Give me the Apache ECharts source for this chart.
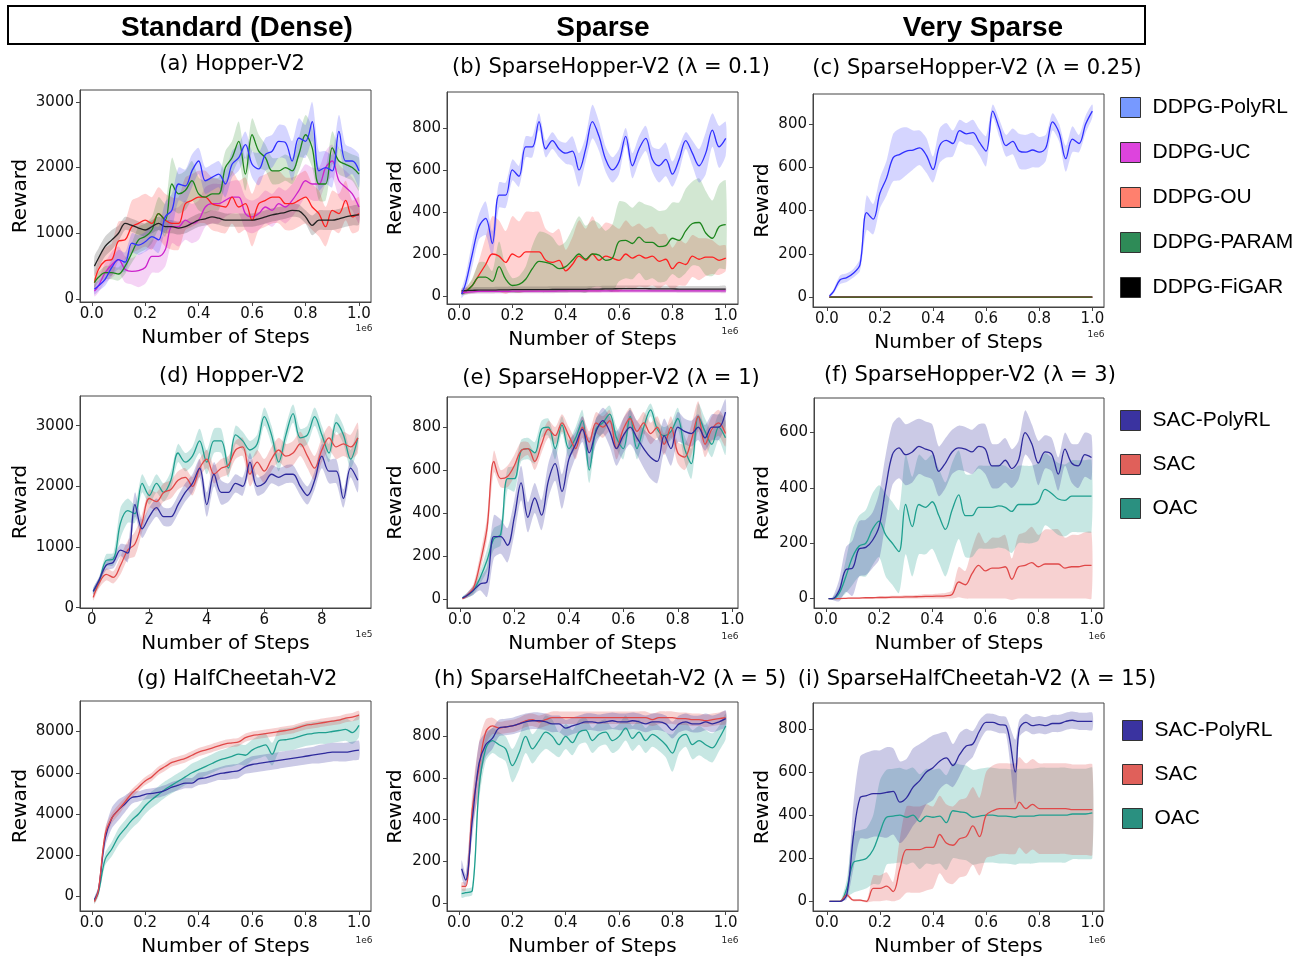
<!DOCTYPE html>
<html>
<head>
<meta charset="utf-8">
<script src="https://cdn.jsdelivr.net/npm/echarts@6/dist/echarts.min.js"></script>
<style>
html, body { margin: 0; padding: 0; background: #fff; }
#chart { width: 1303px; height: 958px; }
</style>
</head>
<body>
<div id="chart"></div>
<script>
// ---- x grids (steps, 1e6 units; d panel in 1e5 units)
const X41 = [0.01,0.025,0.05,0.075,0.1,0.125,0.15,0.175,0.2,0.225,0.25,0.275,0.3,0.325,0.35,0.375,0.4,0.425,0.45,0.475,0.5,0.525,0.55,0.575,0.6,0.625,0.65,0.675,0.7,0.725,0.75,0.775,0.8,0.825,0.85,0.875,0.9,0.925,0.95,0.975,1.0];
const XE = X41.slice(0, 40);
const XI = [0.01,0.025,0.05,0.075,0.1,0.125,0.15,0.175,0.2,0.225,0.25,0.275,0.3,0.325,0.35,0.375,0.4,0.425,0.45,0.475,0.5,0.525,0.55,0.575,0.6,0.625,0.65,0.675,0.71,0.725,0.75,0.775,0.8,0.825,0.85,0.875,0.9,0.925,0.95,0.975,1.0];
const XD = [0.05,0.25,0.5,0.75,1,1.25,1.5,1.75,2,2.25,2.5,2.75,3,3.25,3.5,3.75,4,4.25,4.5,4.75,5,5.25,5.5,5.75,6,6.25,6.5,6.75,7,7.25,7.5,7.75,8,8.25,8.5,8.75,9,9.25];
const XFLAT = [0.01, 1.0];

// ---- (a) Hopper-V2, DDPG
const aPoly  = [150,200,300,480,600,560,850,820,870,950,900,1250,1350,1750,1720,1950,2100,1800,1850,1900,1750,2050,2150,2350,2050,1980,2200,2250,2400,2380,2100,2450,2400,2700,1950,2000,1950,2550,2100,2100,1950];
const aPolyS = [80,80,100,120,150,150,150,150,150,180,200,220,250,250,250,250,200,200,200,200,200,200,200,200,200,250,250,250,250,250,300,300,250,300,300,250,250,250,250,200,250];
const aUC    = [120,200,400,520,600,450,420,430,480,650,650,750,1100,1100,1200,1150,1200,1400,1450,1450,1500,1550,1550,1300,1250,1300,1400,1350,1450,1400,1500,1650,1800,1750,1750,2000,2100,1800,1700,1600,1400];
const aUCS   = [80,100,150,200,200,200,200,250,250,250,250,250,250,300,300,300,300,300,300,300,250,250,250,250,250,250,250,250,250,250,250,250,250,250,250,250,250,250,250,250,250];
const aOU    = [250,450,580,600,880,900,1100,1150,1200,1150,1300,1200,1150,1150,1450,1500,1550,1550,1450,1420,1400,1550,1400,1450,1200,1450,1500,1550,1550,1450,1450,1500,1550,1400,1300,1100,1350,1300,1500,1250,1300];
const aOUS   = [100,150,200,250,300,300,400,400,400,400,400,400,400,400,400,400,400,400,400,400,400,400,400,400,400,400,400,400,400,400,400,400,400,350,350,300,300,300,300,250,250];
const aParam = [250,330,400,400,380,500,700,900,950,1050,1300,1200,1750,1600,1650,1800,1600,1550,1600,1600,2000,2150,2400,1900,2500,2250,2150,1950,1950,2000,1950,2200,2500,2300,1750,1750,2300,2100,2050,2000,1900];
const aParamS= [80,80,100,100,100,120,150,200,200,200,250,250,400,300,300,300,250,250,250,250,250,250,300,250,250,250,200,200,200,200,200,250,300,300,250,250,250,200,200,200,250];
const aFigar = [500,620,800,900,1000,1150,1120,1080,1050,1100,1150,1100,1100,1080,1100,1150,1200,1220,1250,1230,1200,1200,1200,1200,1200,1220,1250,1280,1300,1320,1350,1340,1250,1120,1200,1200,1200,1220,1250,1270,1280];
const aFigarS= [150,150,150,150,120,100,100,100,100,100,100,100,100,100,100,100,100,100,100,100,100,100,100,100,100,100,100,100,100,100,100,100,100,150,150,150,150,150,150,150,150];

// ---- (b) SparseHopper-V2 lambda 0.1, DDPG
const bPoly  = [10,60,200,330,370,250,480,480,600,570,710,710,830,700,740,700,680,690,600,700,830,760,650,600,640,760,620,700,750,650,620,650,580,650,740,680,620,680,790,710,750];
const bPolyS = [20,40,60,60,80,60,60,60,50,50,50,50,40,40,40,40,50,70,80,60,80,70,60,60,60,40,60,60,60,60,80,80,60,60,40,60,80,100,80,100,80];
const bUC    = [15,18,20,22,22,22,22,22,23,23,23,23,23,23,23,24,24,24,24,24,24,24,24,24,24,24,24,24,24,24,24,24,24,24,24,24,24,24,24,24,24];
const bUCS   = [8,10,10,10,10,10,10,10,10,10,10,10,10,10,10,10,10,10,10,10,10,10,10,10,10,10,10,10,10,10,10,10,10,10,10,10,10,10,10,10,10];
const bOU    = [20,25,50,100,150,200,190,160,200,185,210,210,210,170,160,170,120,150,190,170,200,170,190,180,170,200,180,195,180,190,165,175,130,160,150,190,175,185,185,170,180];
const bOUS   = [10,15,30,70,130,180,170,150,180,170,190,190,190,150,140,150,100,130,170,150,180,150,160,160,150,160,150,150,140,140,130,120,100,110,100,100,100,90,80,70,60];
const bParam = [10,20,50,90,90,70,140,80,50,55,80,130,165,160,150,130,140,170,200,175,200,195,170,180,260,265,250,280,255,255,235,240,275,265,310,345,350,300,275,330,340];
const bParamS= [5,15,35,70,70,50,120,60,35,40,60,110,140,140,130,110,120,150,180,160,160,150,140,160,190,180,170,170,180,170,170,170,170,180,200,200,210,200,180,200,210];
const bFigar = [25,26,27,28,28,28,29,29,30,30,30,30,30,30,31,31,31,32,32,32,33,33,34,34,35,35,35,35,35,34,34,34,34,33,33,33,33,33,33,33,33];
const bFigarS= [12,14,15,15,15,15,15,15,15,15,15,15,15,15,15,15,15,15,15,15,15,15,15,15,15,15,15,15,15,15,15,15,15,15,15,15,15,15,15,15,15];

// ---- (c) SparseHopper-V2 lambda 0.25, DDPG
const cPoly  = [5,25,80,90,110,150,390,360,480,550,645,660,675,680,690,655,590,700,725,710,770,755,760,715,675,860,780,700,720,675,670,680,670,690,810,760,640,730,710,800,860];
const cPolyS = [5,10,20,20,20,30,80,70,70,80,110,120,110,90,80,80,60,80,80,60,50,50,60,60,70,30,40,50,60,80,80,80,70,60,40,40,60,60,40,40,30];
const cFlat  = [0, 0];

// ---- (d) Hopper-V2, SAC family
const dPoly  = [270,450,700,750,950,900,1700,1300,1500,1650,1500,1500,1700,1900,2050,2300,1700,2200,1900,1900,2050,2000,2400,2000,2050,2200,2150,2200,2200,2000,1850,2100,2500,2250,2250,1800,2300,2100];
const dPolyS = [50,50,80,100,100,150,200,150,150,150,150,150,150,150,150,150,200,200,200,150,150,150,150,150,150,150,150,150,150,150,150,150,200,200,200,150,150,200];
const dSAC   = [170,400,550,500,700,950,1050,1400,1800,1750,1900,1950,2100,2150,2000,2300,2450,2200,2300,2350,2600,2650,2200,2400,2250,2450,2600,2500,2550,2700,2500,2300,2600,2800,2650,2700,2650,2800];
const dSACS  = [50,80,100,100,150,150,200,150,150,150,150,150,150,150,150,150,150,150,150,150,150,150,200,200,200,200,200,200,200,200,200,200,200,200,200,200,200,250];
const dOAC   = [270,420,780,800,1400,1600,1550,2050,1850,2050,1900,2100,2550,2400,2500,2750,2400,2750,2750,2300,2850,2750,2600,2700,3150,2850,2400,2850,3200,2800,2850,3150,2850,2550,3050,2850,2450,2800];
const dOACS  = [50,80,100,100,250,200,150,150,150,150,150,150,150,150,150,200,200,200,200,150,150,150,150,150,150,150,150,150,150,150,150,150,150,150,150,150,150,150];

// ---- (e) SparseHopper-V2 lambda 1
const ePoly  = [5,15,40,70,80,290,290,250,380,540,380,470,390,550,630,500,650,720,790,680,780,830,780,700,760,800,750,700,660,640,760,700,800,780,770,800,750,800,800,870];
const ePolyS = [5,10,20,30,70,100,80,80,80,80,70,70,70,80,80,80,80,60,60,70,60,60,70,80,80,80,80,90,100,100,80,80,70,60,60,60,60,60,60,60];
const eSAC   = [0,15,50,170,330,640,560,570,620,690,700,640,720,790,760,820,760,700,800,730,820,800,830,700,790,840,780,820,770,800,720,800,680,660,740,850,720,790,820,770];
const eSACS  = [0,10,20,40,50,50,40,50,50,40,30,40,40,40,40,40,40,50,50,50,50,50,50,50,50,50,50,50,50,50,50,50,50,60,70,70,60,60,60,60];
const eOAC   = [5,15,40,100,180,280,300,560,560,690,700,680,790,800,700,810,700,750,830,600,790,820,860,750,700,850,700,800,880,790,760,780,840,700,630,850,780,720,800,750];
const eOACS  = [5,10,20,30,50,50,50,50,60,50,50,50,40,40,50,40,40,50,50,60,50,50,40,50,50,40,50,50,30,40,40,40,50,60,70,60,60,60,60,80];

// ---- (f) SparseHopper-V2 lambda 3
const fPoly  = [0,0,30,105,110,180,185,210,260,400,520,545,520,530,550,540,530,460,490,530,545,540,530,550,540,480,480,500,470,500,600,560,490,530,520,450,540,490,480,520,510];
const fPolyS = [0,5,40,80,100,100,100,100,120,120,110,110,110,110,100,100,100,90,90,80,80,80,80,80,90,80,80,80,70,70,80,70,80,60,60,60,60,70,80,80,80];
const fSAC   = [0,0,0,1,2,2,3,3,4,4,5,5,6,6,7,8,8,9,10,15,60,50,90,120,100,110,110,115,70,115,120,130,115,125,125,125,110,115,115,120,120];
const fSACS  = [0,0,0,1,2,2,3,3,4,4,5,5,6,6,7,8,8,9,10,15,55,50,90,120,100,110,110,115,75,115,120,130,115,125,125,125,110,115,115,120,120];
const fOAC   = [0,0,20,80,150,190,200,250,280,230,200,170,340,260,340,330,350,300,250,320,375,300,300,330,330,330,335,330,315,340,340,340,350,395,380,360,355,370,370,370,370];
const fOACS  = [0,5,20,60,100,110,120,130,130,150,150,150,180,180,180,170,170,170,170,170,160,150,150,150,150,150,150,150,150,140,140,140,140,130,130,130,130,130,130,130,130];

// ---- (g) HalfCheetah-V2
const gPoly  = [-150,300,2800,3800,4200,4500,4800,4850,4950,5000,5050,5150,5300,5400,5500,5500,5700,5750,5850,5950,6000,6050,6100,6300,6400,6450,6500,6550,6600,6650,6700,6750,6800,6850,6900,6950,7000,7000,7000,7050,7100];
const gPolyS = [100,200,400,500,500,400,300,250,250,250,250,250,250,250,250,250,300,300,300,300,350,350,350,350,400,400,400,400,400,400,400,400,400,400,450,450,450,450,450,450,450];
const gSAC   = [-250,300,3000,3800,4200,4600,5000,5300,5600,5800,6100,6300,6500,6600,6700,6850,7000,7100,7200,7300,7400,7450,7500,7700,7800,7850,7900,7950,8000,8050,8100,8200,8300,8350,8400,8450,8500,8550,8650,8700,8800];
const gSACS  = [100,200,300,250,250,200,200,200,200,200,200,200,200,200,200,200,200,200,200,200,200,200,200,200,200,200,200,200,200,200,200,200,200,200,200,200,200,200,200,200,200];
const gOAC   = [-200,200,1800,2300,2900,3300,3700,4000,4400,4700,4950,5200,5400,5600,5800,6000,6150,6300,6450,6600,6700,6800,6900,6850,7100,7250,7350,6900,7550,7600,7650,7750,7850,7900,7950,7950,8000,8050,8100,7950,8300];
const gOACS  = [150,200,300,350,400,400,400,400,400,400,400,400,400,400,400,450,450,450,450,450,450,500,500,500,500,550,550,550,550,550,550,550,550,550,550,550,550,550,550,550,550];

// ---- (h) SparseHalfCheetah-V2 lambda 5
const hPoly  = [165,110,400,670,760,790,840,845,850,860,870,875,875,870,860,860,840,850,860,870,870,865,870,875,870,870,875,870,860,870,870,860,830,860,870,860,860,870,860,870,885];
const hPolyS = [40,30,80,100,60,50,40,40,40,40,40,40,40,40,40,40,40,40,40,40,40,40,40,40,40,40,40,40,40,40,40,40,40,40,40,40,40,40,40,40,40];
const hSAC   = [80,80,450,650,820,850,840,845,850,860,875,880,870,880,890,890,890,890,890,890,890,890,890,890,890,890,890,890,890,880,890,890,890,885,885,880,880,875,880,885,890];
const hSACS  = [20,20,80,120,60,40,30,30,30,30,30,30,30,30,30,30,30,30,30,30,30,30,30,30,30,30,30,30,30,30,30,30,30,30,30,30,30,30,30,30,30];
const hOAC   = [45,50,60,550,740,780,760,740,660,720,800,740,780,820,800,760,800,770,820,830,780,810,820,780,800,840,790,820,780,810,790,760,720,790,810,760,780,760,745,790,850];
const hOACS  = [20,20,20,60,60,60,60,60,80,80,80,70,70,80,80,60,60,60,60,60,60,60,60,60,60,60,60,60,60,60,60,60,90,70,60,70,70,70,70,60,60];

// ---- (i) SparseHalfCheetah-V2 lambda 15
const iPoly  = [0,0,0,30,300,480,490,500,500,505,510,460,480,530,560,600,620,650,665,630,680,720,730,790,830,830,820,815,600,800,830,815,820,815,825,825,835,840,835,835,835];
const iPolyS = [0,0,0,20,150,190,200,200,200,210,200,190,180,180,170,150,150,130,120,100,100,80,60,50,40,40,40,40,150,40,40,40,40,40,40,40,40,40,40,40,40];
const iSAC   = [0,0,0,30,5,5,0,60,60,70,45,150,240,240,240,250,250,310,270,260,290,300,350,300,400,420,430,430,430,460,430,450,430,430,430,430,430,425,425,425,425];
const iSACS  = [0,0,0,10,5,5,5,60,60,65,45,140,200,200,200,200,190,180,180,180,180,180,180,180,200,210,210,210,210,210,210,210,210,210,210,210,210,210,210,210,210];
const iOAC   = [0,0,0,60,180,190,200,240,320,390,395,400,390,400,370,395,390,395,365,420,415,410,390,395,400,400,395,395,390,395,395,395,400,400,400,400,400,405,405,405,410];
const iOACS  = [0,0,0,40,140,140,140,160,240,220,220,220,220,220,220,220,220,220,220,220,220,220,220,220,220,220,220,220,220,220,220,220,220,220,220,220,220,210,210,210,210];

// ---- tick labels
const ticks01 = [0, 0.2, 0.4, 0.6, 0.8, 1.0];
const ticksD  = [0, 2, 4, 6, 8];

const FONT = 'DejaVu Sans';
const SANS = 'Liberation Sans';
const SM = 0.35;

const C = {
    dPoly: '#2f2fff', dUC: '#cc22cc', dOU: '#ff2020', dParam: '#1c851c', dFigar: '#222222',
    sPoly: '#2e2a9c', sac: '#e04848', oac: '#1f9f8f'
};

// panel layout: grid box, axis ranges, ticks, titles
const panels = [
    {box: [80, 90, 291, 212],  x: [-0.044, 1.045], y: [-46, 3181], yt: [0,1000,2000,3000], xt: ticks01, gap: 49, exp: '1e6', title: '(a) Hopper-V2', tx: 232, ty: 65, ex: 364, ey: 329},
    {box: [447, 92, 291, 212], x: [-0.045, 1.046], y: [-38, 971],  yt: [0,200,400,600,800], xt: ticks01, gap: 41, exp: '1e6', title: '(b) SparseHopper-V2 (λ = 0.1)', tx: 611, ty: 68, ex: 730, ey: 332},
    {box: [813, 94, 291, 213], x: [-0.052, 1.044], y: [-46, 939],  yt: [0,200,400,600,800], xt: ticks01, gap: 40, exp: '1e6', title: '(c) SparseHopper-V2 (λ = 0.25)', tx: 977, ty: 69, ex: 1096, ey: 335},
    {box: [80, 396, 291, 212], x: [-0.41, 9.71],   y: [-5, 3490],  yt: [0,1000,2000,3000], xt: ticksD, gap: 49, exp: '1e5', title: '(d) Hopper-V2', tx: 232, ty: 377, ex: 364, ey: 635},
    {box: [447, 397, 291, 211], x: [-0.047, 1.021], y: [-42, 940], yt: [0,200,400,600,800], xt: ticks01, gap: 41, exp: '1e6', title: '(e) SparseHopper-V2 (λ = 1)', tx: 611, ty: 379, ex: 730, ey: 637},
    {box: [814, 398, 290, 210], x: [-0.045, 1.047], y: [-34, 725], yt: [0,200,400,600], xt: ticks01, gap: 41, exp: '1e6', title: '(f) SparseHopper-V2 (λ = 3)', tx: 970, ty: 376, ex: 1097, ey: 637},
    {box: [80, 701, 291, 212], x: [-0.044, 1.045], y: [-705, 9480], yt: [0,2000,4000,6000,8000], xt: ticks01, gap: 49, exp: '1e6', title: '(g) HalfCheetah-V2', tx: 237, ty: 680, ex: 364, ey: 941},
    {box: [447, 702, 291, 211], x: [-0.045, 1.046], y: [-38, 965], yt: [0,200,400,600,800], xt: ticks01, gap: 41, exp: '1e6', title: '(h) SparseHalfCheetah-V2 (λ = 5)', tx: 610, ty: 680, ex: 730, ey: 941},
    {box: [813, 703, 291, 210], x: [-0.052, 1.044], y: [-45, 920], yt: [0,200,400,600,800], xt: ticks01, gap: 40, exp: '1e6', title: '(i) SparseHalfCheetah-V2 (λ = 15)', tx: 977, ty: 680, ex: 1097, ey: 941}
];

// series per panel: [name, x, mean, std, colour, band opacity]
const lines = [
    [['DDPG-UC', X41, aUC, aUCS, C.dUC, 0.2], ['DDPG-OU', X41, aOU, aOUS, C.dOU, 0.2], ['DDPG-PARAM', X41, aParam, aParamS, C.dParam, 0.2],
     ['DDPG-FiGAR', X41, aFigar, aFigarS, C.dFigar, 0.2], ['DDPG-PolyRL', X41, aPoly, aPolyS, C.dPoly, 0.2]],
    [['DDPG-OU', X41, bOU, bOUS, C.dOU, 0.2], ['DDPG-PARAM', X41, bParam, bParamS, C.dParam, 0.2], ['DDPG-FiGAR', X41, bFigar, bFigarS, C.dFigar, 0.2],
     ['DDPG-UC', X41, bUC, bUCS, C.dUC, 0.2], ['DDPG-PolyRL', X41, bPoly, bPolyS, C.dPoly, 0.2]],
    [['DDPG-OU', XFLAT, cFlat, null, C.dOU], ['DDPG-UC', XFLAT, cFlat, null, C.dUC], ['DDPG-FiGAR', XFLAT, cFlat, null, C.dFigar],
     ['DDPG-PARAM', XFLAT, cFlat, null, '#55701f'], ['DDPG-PolyRL', X41, cPoly, cPolyS, C.dPoly, 0.2]],
    [['OAC', XD, dOAC, dOACS, C.oac, 0.25], ['SAC', XD, dSAC, dSACS, C.sac, 0.25], ['SAC-PolyRL', XD, dPoly, dPolyS, C.sPoly, 0.25]],
    [['OAC', XE, eOAC, eOACS, C.oac, 0.25], ['SAC', XE, eSAC, eSACS, C.sac, 0.25], ['SAC-PolyRL', XE, ePoly, ePolyS, C.sPoly, 0.25]],
    [['SAC', X41, fSAC, fSACS, C.sac, 0.25], ['OAC', X41, fOAC, fOACS, C.oac, 0.25], ['SAC-PolyRL', X41, fPoly, fPolyS, C.sPoly, 0.25]],
    [['OAC', X41, gOAC, gOACS, C.oac, 0.25], ['SAC-PolyRL', X41, gPoly, gPolyS, C.sPoly, 0.25], ['SAC', X41, gSAC, gSACS, C.sac, 0.25]],
    [['OAC', X41, hOAC, hOACS, C.oac, 0.25], ['SAC', X41, hSAC, hSACS, C.sac, 0.25], ['SAC-PolyRL', X41, hPoly, hPolyS, C.sPoly, 0.25]],
    [['OAC', XI, iOAC, iOACS, C.oac, 0.25], ['SAC', XI, iSAC, iSACS, C.sac, 0.25], ['SAC-PolyRL', XI, iPoly, iPolyS, C.sPoly, 0.25]]
];

const grids = [], xAxes = [], yAxes = [], series = [], graphics = [];

// mean +/- std band as one polygon in the panel's own coordinates
function bandSeries(k, xs, m, sd, color, op) {
    const rows = xs.map(function (v, i) { return [v, m[i] - sd[i], m[i] + sd[i]]; });
    return {
        type: 'custom', xAxisIndex: k, yAxisIndex: k, silent: true, z: 1, clip: true,
        data: rows, encode: {x: 0, y: [1, 2]},
        renderItem: function (params, api) {
            if (params.dataIndex !== 0) return null;
            const up = rows.map(function (r) { return api.coord([r[0], r[2]]); });
            const lo = rows.map(function (r) { return api.coord([r[0], r[1]]); }).reverse();
            return {type: 'polygon', shape: {points: up.concat(lo), smooth: 0.25},
                style: {fill: color, opacity: op}};
        }
    };
}

panels.forEach(function (p, k) {
    grids.push({left: p.box[0], top: p.box[1], width: p.box[2], height: p.box[3],
        show: true, borderColor: '#444', borderWidth: 1, backgroundColor: 'transparent'});
    xAxes.push({
        type: 'value', gridIndex: k, min: p.x[0], max: p.x[1],
        name: 'Number of Steps', nameLocation: 'middle', nameGap: 26,
        nameTextStyle: {fontFamily: FONT, fontSize: 20, color: '#000'},
        axisLine: {show: true, onZero: false, lineStyle: {color: '#444', width: 1}},
        axisTick: {show: true, length: 4, customValues: p.xt, lineStyle: {color: '#444'}},
        axisLabel: {customValues: p.xt, margin: 5, fontFamily: FONT, fontSize: 15, color: '#111',
            formatter: function (v) { return p.exp === '1e5' ? String(v) : v.toFixed(1); }},
        splitLine: {show: false}
    });
    yAxes.push({
        type: 'value', gridIndex: k, min: p.y[0], max: p.y[1],
        name: 'Reward', nameLocation: 'middle', nameGap: p.gap, nameRotate: 90,
        nameTextStyle: {fontFamily: FONT, fontSize: 20, color: '#000'},
        axisLine: {show: true, onZero: false, lineStyle: {color: '#444', width: 1}},
        axisTick: {show: true, length: 4, customValues: p.yt, lineStyle: {color: '#444'}},
        axisLabel: {customValues: p.yt, margin: 6, fontFamily: FONT, fontSize: 15, color: '#111',
            formatter: function (v) { return String(v); }},
        splitLine: {show: false}
    });

    // shaded bands first
    lines[k].forEach(function (s) {
        if (s[3]) series.push(bandSeries(k, s[1], s[2], s[3], s[4], s[5]));
    });
    // mean lines
    lines[k].forEach(function (s) {
        series.push({type: 'line', name: s[0], xAxisIndex: k, yAxisIndex: k, smooth: SM, symbol: 'none',
            silent: true, z: 3, data: s[1].map(function (v, i) { return [v, s[2][i]]; }),
            lineStyle: {color: s[4], width: 1.3}, itemStyle: {color: s[4]}});
    });

    graphics.push({type: 'text', x: p.tx, y: p.ty, style: {text: p.title, font: '21px "' + FONT + '"', fill: '#000',
        align: 'center', verticalAlign: 'middle', textAlign: 'center', textVerticalAlign: 'middle'}});
    graphics.push({type: 'text', x: p.ex, y: p.ey, style: {text: p.exp, font: '9px "' + FONT + '"', fill: '#222',
        align: 'center', verticalAlign: 'middle', textAlign: 'center', textVerticalAlign: 'middle'}});
});

// header band
graphics.push({type: 'rect', shape: {x: 8, y: 6, width: 1137, height: 38}, style: {fill: 'none', stroke: '#000', lineWidth: 2}});
[['Standard (Dense)', 237], ['Sparse', 603], ['Very Sparse', 983]].forEach(function (h) {
    graphics.push({type: 'text', x: h[1], y: 28, style: {text: h[0], font: 'bold 28px "' + SANS + '"', fill: '#000',
        align: 'center', verticalAlign: 'middle', textAlign: 'center', textVerticalAlign: 'middle'}});
});

function legendBlock(left, top, gap, items) {
    return {
        orient: 'vertical', left: left, top: top, itemWidth: 20, itemHeight: 20, itemGap: gap,
        selectedMode: false, icon: 'rect',
        textStyle: {fontFamily: SANS, fontSize: 21, color: '#000', padding: [0, 0, 0, 7]},
        data: items.map(function (it) {
            return {name: it[0], icon: 'rect', itemStyle: {color: it[1], borderColor: '#333', borderWidth: 1}};
        })
    };
}

const ddpgLegend = [['DDPG-PolyRL', '#7799ff'], ['DDPG-UC', '#dd44dd'], ['DDPG-OU', '#ff806e'], ['DDPG-PARAM', '#2e8b57'], ['DDPG-FiGAR', '#000000']];
const sacLegend = [['SAC-PolyRL', '#3a33a0'], ['SAC', '#e0605a'], ['OAC', '#2a9080']];

const chart = echarts.init(document.getElementById('chart'), null, {renderer: 'canvas'});
chart.setOption({
    animation: false,
    backgroundColor: '#fff',
    grid: grids,
    xAxis: xAxes,
    yAxis: yAxes,
    series: series,
    legend: [legendBlock(1115, 92, 24, ddpgLegend), legendBlock(1115, 405, 23, sacLegend), legendBlock(1117, 715, 23, sacLegend)],
    graphic: graphics
});
</script>
</body>
</html>
